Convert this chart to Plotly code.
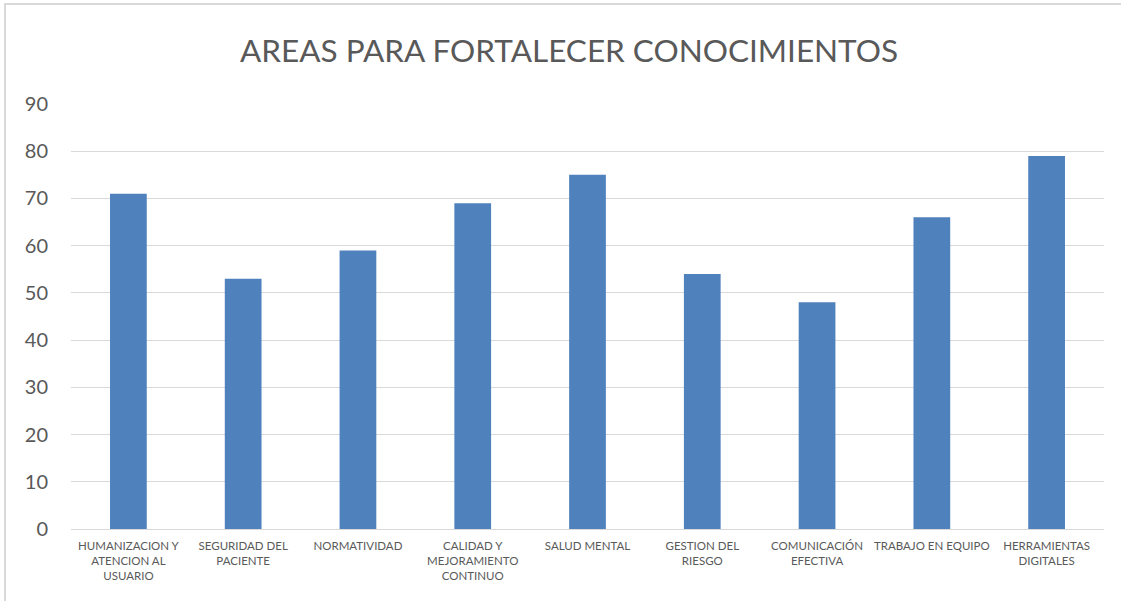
import plotly.graph_objects as go

# Áreas y número de respuestas
categorias = [
    "HUMANIZACION Y<br>ATENCION AL<br>USUARIO",
    "SEGURIDAD DEL<br>PACIENTE",
    "NORMATIVIDAD",
    "CALIDAD Y<br>MEJORAMIENTO<br>CONTINUO",
    "SALUD MENTAL",
    "GESTION DEL<br>RIESGO",
    "COMUNICACIÓN<br>EFECTIVA",
    "TRABAJO EN EQUIPO",
    "HERRAMIENTAS<br>DIGITALES",
]
valores = [71, 53, 59, 69, 75, 54, 48, 66, 79]
marcas_y = [0, 10, 20, 30, 40, 50, 60, 70, 80, 90]

W, H = 1121, 601
L, R, T, B = 71, 17, 104, 72
pw, ph = W - L - R, H - T - B

fig = go.Figure(
    go.Bar(
        x=categorias,
        y=valores,
        marker=dict(color="#4F81BD", line=dict(width=0)),
        width=0.32,
    )
)

fig.update_layout(
    width=W,
    height=H,
    margin=dict(l=L, r=R, t=T, b=B),
    paper_bgcolor="white",
    plot_bgcolor="white",
    font=dict(family="Lato, 'Open Sans', sans-serif", color="#595959"),
    title=dict(
        text="AREAS PARA FORTALECER CONOCIMIENTOS",
        xref="paper",
        x=(569 - L) / pw,
        xanchor="center",
        y=1 - 51 / H,
        yanchor="middle",
        font=dict(size=31.5, color="#595959"),
    ),
    showlegend=False,
    bargap=0.68,
)

fig.update_yaxes(
    range=[0, 90],
    tickvals=marcas_y,
    gridcolor="#D9D9D9",
    gridwidth=1,
    zeroline=False,
    showline=False,
    ticks="",
    tickfont=dict(size=20, color="#595959"),
    ticklabelstandoff=22,
)
fig.update_xaxes(
    showline=True,
    linecolor="#D9D9D9",
    linewidth=1,
    ticks="",
    tickangle=0,
    tickfont=dict(size=11.5, color="#595959"),
    ticklabelstandoff=6,
)

# Marco exterior del gráfico
fig.add_shape(
    type="rect",
    xref="paper",
    yref="paper",
    x0=(5 - L) / pw,
    x1=(1130 - L) / pw,
    y0=1 - (610 - T) / ph,
    y1=1 + (T - 4) / ph,
    line=dict(color="#D9D9D9", width=2),
    fillcolor="rgba(0,0,0,0)",
    layer="below",
)

fig.write_html("out.html")
